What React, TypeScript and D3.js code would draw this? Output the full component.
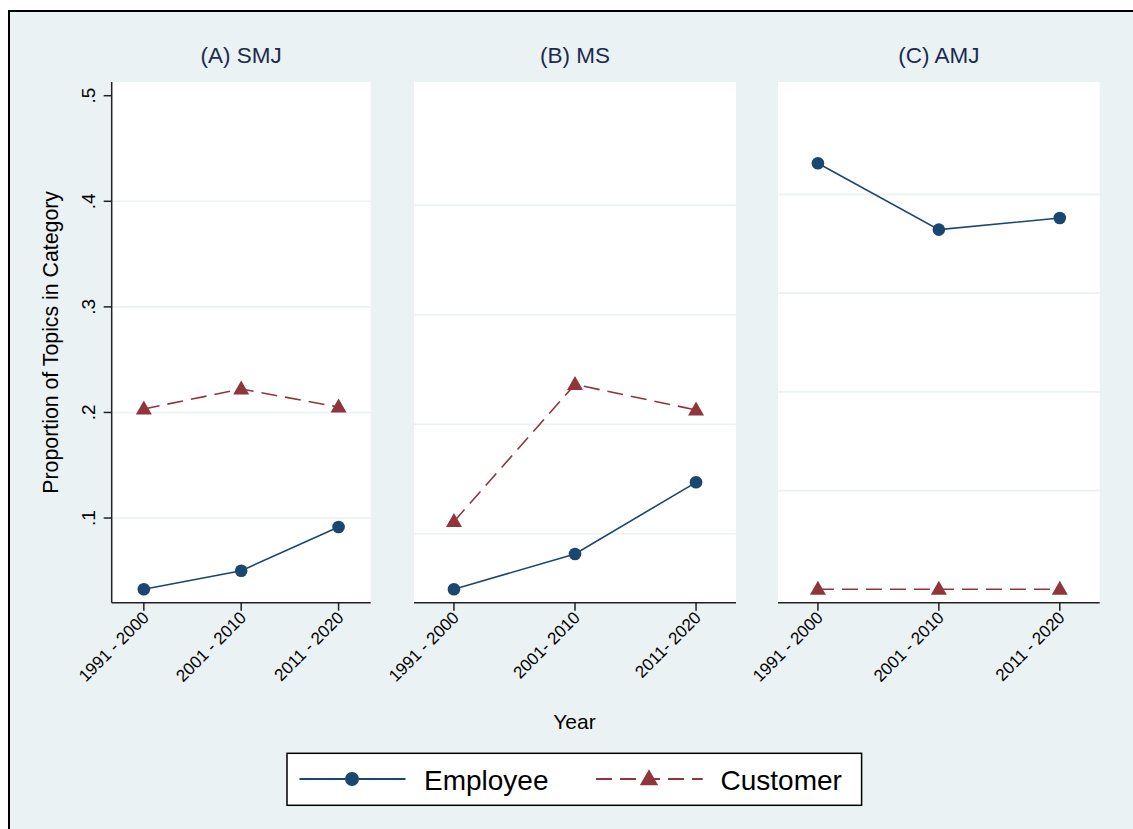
import React from "react";
import * as d3 from "d3";

// ---- data ----
const panelTitles = ["(A) SMJ", "(B) MS", "(C) AMJ"];
const categories = ["1991-2000", "2001-2010", "2011-2020"];
const tickLabelsSMJ = ["1991 - 2000", "2001 - 2010", "2011 - 2020"];
const tickLabelsMS = ["1991 - 2000", "2001- 2010", "2011- 2020"];
const tickLabelsAMJ = ["1991 - 2000", "2001 - 2010", "2011 - 2020"];
const employeeSMJ = [0.0325, 0.0501, 0.0915];
const customerSMJ = [0.2033, 0.2222, 0.2051];
const employeeMS = [0.0492, 0.0815, 0.1469];
const customerMS = [0.1111, 0.2363, 0.213];
const employeeAMJ = [0.4315, 0.3643, 0.3761];
const customerAMJ = [0.0, 0.0, 0.0];
const yTicks = [0.1, 0.2, 0.3, 0.4, 0.5];
const yTickLabels = [".1", ".2", ".3", ".4", ".5"];
const seriesNames = ["Employee", "Customer"];
const yTitle = "Proportion of Topics in Category";
const xTitle = "Year";

// ---- style ----
const BG = "#eaf2f3";
const NAVY = "#1a476f";
const MAROON = "#90353b";
const TITLE = "#1c2b4f";
const FONT = "'Liberation Sans', Arial, Helvetica, sans-serif";

const panelData = [
  { title: panelTitles[0], labels: tickLabelsSMJ, emp: employeeSMJ, cus: customerSMJ },
  { title: panelTitles[1], labels: tickLabelsMS, emp: employeeMS, cus: customerMS },
  { title: panelTitles[2], labels: tickLabelsAMJ, emp: employeeAMJ, cus: customerAMJ },
];
const panelX = [
  [111.7, 370.7],
  [414, 736],
  [778, 1099.7],
];
const PLOT_TOP = 82;
const PLOT_BOTTOM = 602.7;
const DATA_TOP = 95.7;
const DATA_BOTTOM = 589.3;

const triPath = "M0,-8.5L8,5.5L-8,5.5Z";

function Panel({ idx }: { idx: number }) {
  const p = panelData[idx];
  const [x0, x1] = panelX[idx];
  const x = d3.scalePoint<string>().domain(categories).range([x0, x1]).padding(0.33);
  const yMin = d3.min([...p.emp, ...p.cus]) as number;
  const y = d3.scaleLinear().domain([yMin, 0.5]).range([DATA_BOTTOM, DATA_TOP]);
  const line = d3
    .line<number>()
    .x((_, i) => x(categories[i]) as number)
    .y((d) => y(d));
  const showY = idx === 0;
  return (
    <g>
      <rect x={x0} y={PLOT_TOP} width={x1 - x0} height={PLOT_BOTTOM - PLOT_TOP} fill="#fff" />
      {yTicks
        .filter((t) => t < 0.5 && t >= yMin)
        .map((t) => (
          <line key={t} x1={x0} x2={x1} y1={y(t)} y2={y(t)} stroke={BG} strokeWidth={1.6} />
        ))}
      <path d={line(p.cus) || ""} fill="none" stroke={MAROON} strokeWidth={1.6} strokeDasharray="16,8" />
      <path d={line(p.emp) || ""} fill="none" stroke={NAVY} strokeWidth={1.6} />
      {p.emp.map((v, i) => (
        <circle key={"e" + i} cx={x(categories[i])} cy={y(v)} r={6.3} fill={NAVY} />
      ))}
      {p.cus.map((v, i) => (
        <path key={"c" + i} d={triPath} transform={`translate(${x(categories[i])},${y(v)})`} fill={MAROON} />
      ))}
      {/* x axis */}
      <line x1={x0} x2={x1} y1={PLOT_BOTTOM} y2={PLOT_BOTTOM} stroke="#222" strokeWidth={1.5} />
      {categories.map((c, i) => {
        const cx = x(c) as number;
        return (
          <g key={c}>
            <line x1={cx} x2={cx} y1={PLOT_BOTTOM} y2={PLOT_BOTTOM + 8} stroke="#222" strokeWidth={1.5} />
            <text
              transform={`translate(${cx + 6},${PLOT_BOTTOM + 16}) rotate(-45)`}
              textAnchor="end"
              fontSize={17}
              fontFamily={FONT}
              fill="#000"
            >
              {p.labels[i]}
            </text>
          </g>
        );
      })}
      {showY && (
        <g>
          <line x1={x0} x2={x0} y1={PLOT_TOP} y2={PLOT_BOTTOM} stroke="#222" strokeWidth={1.5} />
          {yTicks.map((t, i) => (
            <g key={t}>
              <line x1={x0 - 8} x2={x0} y1={y(t)} y2={y(t)} stroke="#222" strokeWidth={1.5} />
              <text
                transform={`translate(${x0 - 17},${y(t)}) rotate(-90)`}
                textAnchor="middle"
                fontSize={19}
                fontFamily={FONT}
                fill="#000"
              >
                {yTickLabels[i]}
              </text>
            </g>
          ))}
          <text
            transform={`translate(58.3,${(PLOT_TOP + PLOT_BOTTOM) / 2}) rotate(-90)`}
            textAnchor="middle"
            fontSize={21.3}
            fontFamily={FONT}
            fill="#000"
          >
            {yTitle}
          </text>
        </g>
      )}
      <text x={(x0 + x1) / 2} y={62.7} textAnchor="middle" fontSize={22.5} fontFamily={FONT} fill={TITLE}>
        {p.title}
      </text>
    </g>
  );
}

export default function App() {
  return (
    <svg
      width={1133}
      height={829}
      style={{ position: "absolute", left: 0, top: 0, display: "block" }}
      xmlns="http://www.w3.org/2000/svg"
    >
      <rect x={0} y={0} width={1133} height={829} fill="#fff" />
      <rect x={9} y={11} width={1140} height={840} fill={BG} stroke="#000" strokeWidth={2} />
      {[0, 1, 2].map((i) => (
        <Panel key={i} idx={i} />
      ))}
      <text x={574.5} y={729.3} textAnchor="middle" fontSize={21} fontFamily={FONT} fill="#000">
        {xTitle}
      </text>
      {/* legend */}
      <rect x={287} y={753.3} width={574.6} height={52} fill="#fff" stroke="#000" strokeWidth={1.5} />
      <line x1={299.5} x2={405.5} y1={779} y2={779} stroke={NAVY} strokeWidth={1.8} />
      <circle cx={352} cy={779} r={7} fill={NAVY} />
      <text x={424} y={790} fontSize={28} fontFamily={FONT} fill="#000">
        {seriesNames[0]}
      </text>
      <line x1={596} x2={702.7} y1={779} y2={779} stroke={MAROON} strokeWidth={1.8} strokeDasharray="16,8" />
      <path d={triPath} transform="translate(649,779) scale(1.15)" fill={MAROON} />
      <text x={720.5} y={790} fontSize={28} fontFamily={FONT} fill="#000">
        {seriesNames[1]}
      </text>
    </svg>
  );
}
